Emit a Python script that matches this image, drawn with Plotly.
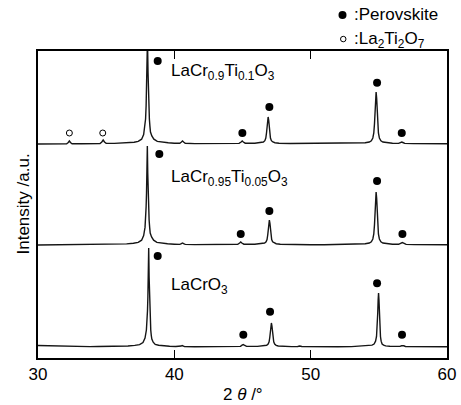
import plotly.graph_objects as go

# ---------------- data (2theta in degrees, intensity above each pattern's baseline, a.u.) ----------------
top_x = [30.0, 31.0, 31.8, 32.1, 32.22, 32.3, 32.38, 32.5, 33.2, 33.8, 34.3,
         34.55, 34.68, 34.78, 34.88, 35.0, 35.6, 36.2, 36.6, 37.05, 37.35, 37.6, 37.75, 37.85,
         37.89, 37.93, 37.96, 37.99, 38.03, 38.07, 38.1, 38.13, 38.17, 38.21, 38.25, 38.35,
         38.5, 38.75, 39.05, 39.55, 40.0, 40.4, 40.52, 40.6, 40.68, 40.8, 41.5, 42.5, 43.5,
         44.3, 44.75, 44.9, 44.98, 45.06, 45.2, 45.9, 46.38, 46.53, 46.64, 46.71, 46.76,
         46.8, 46.84, 46.88, 46.92, 46.96, 47.0, 47.05, 47.12, 47.23, 47.38, 47.68, 48.5,
         49.2, 50.0, 51.0, 52.0, 53.0, 53.6, 54.0, 54.3, 54.45, 54.56, 54.63, 54.68, 54.72,
         54.76, 54.8, 54.84, 54.88, 54.92, 54.97, 55.04, 55.15, 55.3, 55.6, 56.0, 56.45,
         56.6, 56.68, 56.76, 56.9, 57.5, 58.3, 59.0, 60.0]
top_y = [0.0, 0.3, 0.0, 0.3, 1.5, 3.0, 1.5, 0.3, 0.2, 0.4, 0.3,
         0.5, 2.0, 4.0, 2.0, 0.6, 0.6, 1.0, 1.3, 1.8, 2.6, 4.8, 9.5, 17.6,
         25.0, 38.0, 52.0, 72.0, 105.0, 72.0, 52.0, 38.0, 25.0, 17.6, 12.0, 8.0,
         4.8, 2.6, 1.8, 1.2, 0.8, 0.8, 2.0, 3.0, 2.0, 0.7, 0.4, 0.3, 0.4,
         0.5, 0.6, 2.0, 3.0, 2.0, 0.8, 0.8, 1.3, 2.0, 3.3, 6.0, 11.0,
         18.0, 24.0, 27.0, 24.0, 18.0, 11.0, 6.0, 3.3, 2.0, 1.3, 0.8, 0.5,
         0.6, 0.4, 0.3, 0.4, 0.5, 0.9, 1.2, 2.0, 3.2, 6.0, 11.0, 20.0, 34.0,
         46.0, 52.0, 46.0, 34.0, 20.0, 11.0, 6.0, 3.2, 2.0, 1.2, 0.8, 0.6,
         1.5, 2.0, 1.5, 0.6, 0.4, 0.3, 0.4, 0.3]

mid_x = [30.0, 31.0, 32.0, 33.0, 34.0, 35.0, 35.8, 36.5, 37.0, 37.35, 37.6, 37.75, 37.85,
         37.89, 37.93, 37.96, 37.99, 38.02, 38.05, 38.08, 38.11, 38.15, 38.19, 38.23, 38.33,
         38.48, 38.72, 39.02, 39.5, 40.0, 40.4, 40.52, 40.6, 40.68, 40.8, 41.5, 42.5, 43.5,
         44.2, 44.65, 44.79, 44.87, 44.95, 45.1, 45.9, 46.47, 46.62, 46.73, 46.8, 46.85,
         46.89, 46.93, 46.97, 47.01, 47.05, 47.09, 47.14, 47.21, 47.32, 47.47, 47.77, 48.5,
         49.2, 50.0, 51.0, 52.0, 53.0, 53.6, 54.0, 54.3, 54.45, 54.56, 54.63, 54.68, 54.72,
         54.76, 54.8, 54.84, 54.88, 54.92, 54.97, 55.04, 55.15, 55.3, 55.6, 56.0, 56.45,
         56.62, 56.72, 56.82, 57.0, 57.6, 58.4, 59.2, 60.0]
mid_y = [0.0, 0.2, 0.3, 0.2, 0.3, 0.5, 0.8, 1.1, 1.7, 2.6, 4.8, 9.5, 17.6,
         25.0, 38.0, 52.0, 72.0, 99.0, 72.0, 52.0, 38.0, 25.0, 17.6, 12.0, 8.0,
         4.8, 2.6, 1.8, 1.2, 0.8, 0.6, 1.3, 2.0, 1.3, 0.6, 0.4, 0.3, 0.4,
         0.5, 0.7, 2.0, 3.0, 2.0, 0.8, 0.8, 1.3, 2.0, 3.2, 5.5, 10.0,
         17.0, 22.0, 25.0, 22.0, 17.0, 10.0, 5.5, 3.2, 2.0, 1.3, 0.8, 0.5,
         0.4, 0.3, 0.3, 0.4, 0.5, 0.9, 1.2, 2.0, 3.2, 6.0, 11.0, 20.0, 35.0,
         47.0, 53.0, 47.0, 35.0, 20.0, 11.0, 6.0, 3.2, 2.0, 1.2, 0.8, 0.7,
         1.8, 2.5, 1.8, 0.6, 0.4, 0.3, 0.2, 0.2]

bot_x = [30.0, 30.8, 31.6, 32.4, 33.2, 33.5, 33.8, 34.4, 35.2, 35.9, 36.6, 37.1, 37.45,
         37.7, 37.85, 37.95, 37.99, 38.03, 38.06, 38.09, 38.12, 38.15, 38.18, 38.21, 38.24,
         38.27, 38.31, 38.35, 38.45, 38.6, 38.85, 39.15, 39.65, 40.1, 40.4, 40.5, 40.57,
         40.64, 40.75, 41.5, 42.5, 43.5, 44.3, 44.85, 44.97, 45.05, 45.13, 45.3, 46.1,
         46.62, 46.77, 46.88, 46.95, 47.0, 47.04, 47.08, 47.12, 47.16, 47.2, 47.24, 47.29,
         47.36, 47.47, 47.62, 47.92, 48.6, 49.05, 49.2, 49.35, 50.0, 51.0, 52.0, 53.0,
         53.8, 54.2, 54.5, 54.65, 54.76, 54.83, 54.88, 54.92, 54.95, 54.98, 55.01, 55.04,
         55.08, 55.12, 55.17, 55.24, 55.35, 55.5, 55.8, 56.2, 56.55, 56.67, 56.75, 56.83,
         56.95, 57.6, 58.4, 59.2, 60.0]
bot_y = [1.5, 1.2, 0.6, 0.5, 0.4, 0.0, 0.4, 0.5, 0.6, 0.7, 1.0, 1.6, 2.4,
         4.5, 9.0, 17.0, 24.0, 36.0, 50.0, 70.0, 99.0, 70.0, 50.0, 36.0, 24.0,
         17.0, 11.5, 8.0, 4.8, 2.6, 1.7, 1.1, 0.7, 0.5, 0.5, 1.0, 1.5,
         1.0, 0.4, 0.3, 0.2, 0.3, 0.4, 0.6, 1.8, 2.5, 1.8, 0.6, 0.6,
         1.0, 1.7, 3.0, 5.2, 9.5, 16.0, 21.0, 24.0, 21.0, 16.0, 9.5, 5.2,
         3.0, 1.7, 1.0, 0.6, 0.4, 0.5, 1.0, 0.5, 0.3, 0.2, 0.3, 0.4,
         0.8, 1.1, 1.9, 3.0, 5.8, 10.5, 19.0, 34.0, 47.0, 54.0, 47.0, 34.0,
         19.0, 10.5, 5.8, 3.0, 1.9, 1.1, 0.7, 0.5, 0.6, 1.2, 1.5, 1.2,
         0.5, 0.3, 0.2, 0.2, 0.2]

# phase markers: (2theta, height above baseline)
top_perov_x = [38.78, 44.99, 46.97, 54.87, 56.68]
top_perov_y = [83.0, 11.0, 37.0, 61.3, 11.0]
top_pyro_x = [32.3, 34.75]
top_pyro_y = [11.0, 11.0]
mid_perov_x = [38.9, 44.87, 46.97, 54.87, 56.73]
mid_perov_y = [91.0, 11.0, 34.0, 64.0, 11.0]
bot_perov_x = [38.78, 45.06, 47.02, 54.87, 56.7]
bot_perov_y = [91.0, 12.3, 35.3, 63.7, 12.3]

sample_names = ["LaCr<sub>0.9</sub>Ti<sub>0.1</sub>O<sub>3</sub>",
                "LaCr<sub>0.95</sub>Ti<sub>0.05</sub>O<sub>3</sub>",
                "LaCrO<sub>3</sub>"]
legend_labels = [":Perovskite", ":La<sub>2</sub>Ti<sub>2</sub>O<sub>7</sub>"]
offsets = [214.0, 113.0, 11.0]
x_ticks = [30, 40, 50, 60]

FONT = "Liberation Sans, Arial, Helvetica, sans-serif"
FS = 17
LINE = "#151515"

# plot-area geometry (pixels) for placing items outside the axes
W, H = 461, 405
ML, MR, MT, MB = 38, 14, 51, 47
PW, PH = W - ML - MR, H - MT - MB


def px(x):
    return (x - ML) / PW


def py(y):
    return (H - MB - y) / PH


fig = go.Figure()

curves = [(top_x, top_y), (mid_x, mid_y), (bot_x, bot_y)]
for (xs, ys), off in zip(curves, offsets):
    fig.add_trace(go.Scatter(x=xs, y=[v + off for v in ys], mode="lines",
                             line=dict(color=LINE, width=1.4), hoverinfo="skip",
                             showlegend=False))

dots = [(top_perov_x, top_perov_y, offsets[0]),
        (mid_perov_x, mid_perov_y, offsets[1]),
        (bot_perov_x, bot_perov_y, offsets[2])]
for xs, ys, off in dots:
    fig.add_trace(go.Scatter(x=xs, y=[v + off for v in ys], mode="markers",
                             marker=dict(color="black", size=8, line=dict(width=0)),
                             showlegend=False, hoverinfo="skip"))
fig.add_trace(go.Scatter(x=top_pyro_x, y=[v + offsets[0] for v in top_pyro_y], mode="markers",
                         marker=dict(color="white", size=6, line=dict(color="black", width=1)),
                         showlegend=False, hoverinfo="skip"))

# legend symbols drawn as shapes above the plot area
shapes = [
    dict(type="circle", xref="paper", yref="paper",
         x0=px(338.5), x1=px(346.5), y0=py(19), y1=py(11),
         fillcolor="black", line=dict(width=0)),
    dict(type="circle", xref="paper", yref="paper",
         x0=px(340.5), x1=px(346.0), y0=py(41.8), y1=py(36.3),
         fillcolor="white", line=dict(color="black", width=1)),
]

ann = []
label_y = [286, 180, 72]
for name, ly in zip(sample_names, label_y):
    ann.append(dict(x=39.62, y=ly, xref="x", yref="y", text=name, showarrow=False,
                    xanchor="left", yanchor="middle", font=dict(size=FS, color="black")))

for lab, ly in zip(legend_labels, [15, 40]):
    ann.append(dict(x=px(352), y=py(ly), xref="paper", yref="paper",
                    text=lab, showarrow=False, xanchor="left", yanchor="middle",
                    font=dict(size=FS, color="black")))
ann.append(dict(x=0.5, y=py(394), xref="paper", yref="paper",
                text="2 <i>θ</i> /°", showarrow=False, xanchor="center", yanchor="middle",
                font=dict(size=FS, color="black")))
ann.append(dict(x=px(23), y=0.5, xref="paper", yref="paper",
                text="Intensity /a.u.", showarrow=False, textangle=-90,
                xanchor="center", yanchor="middle", font=dict(size=FS, color="black")))

fig.update_layout(
    width=W, height=H,
    margin=dict(l=ML, r=MR, t=MT, b=MB, pad=0),
    paper_bgcolor="white", plot_bgcolor="white",
    font=dict(family=FONT, size=FS, color="black"),
    annotations=ann,
    shapes=shapes,
    showlegend=False,
    xaxis=dict(range=[30, 60], tickvals=x_ticks, ticktext=[str(t) for t in x_ticks],
               ticks="inside", ticklen=8, tickwidth=1, tickcolor="black",
               showline=True, linecolor="black", linewidth=1.5, mirror="ticks",
               showgrid=False, zeroline=False, automargin=False,
               tickfont=dict(size=FS, color="black")),
    yaxis=dict(range=[0, 307], showticklabels=False, ticks="", showline=True,
               linecolor="black", linewidth=1.5, mirror=True, showgrid=False,
               zeroline=False, automargin=False),
)

fig.write_html("out.html", config={"displayModeBar": False},
               post_script="document.body.style.margin='0';document.body.style.padding='0';")
